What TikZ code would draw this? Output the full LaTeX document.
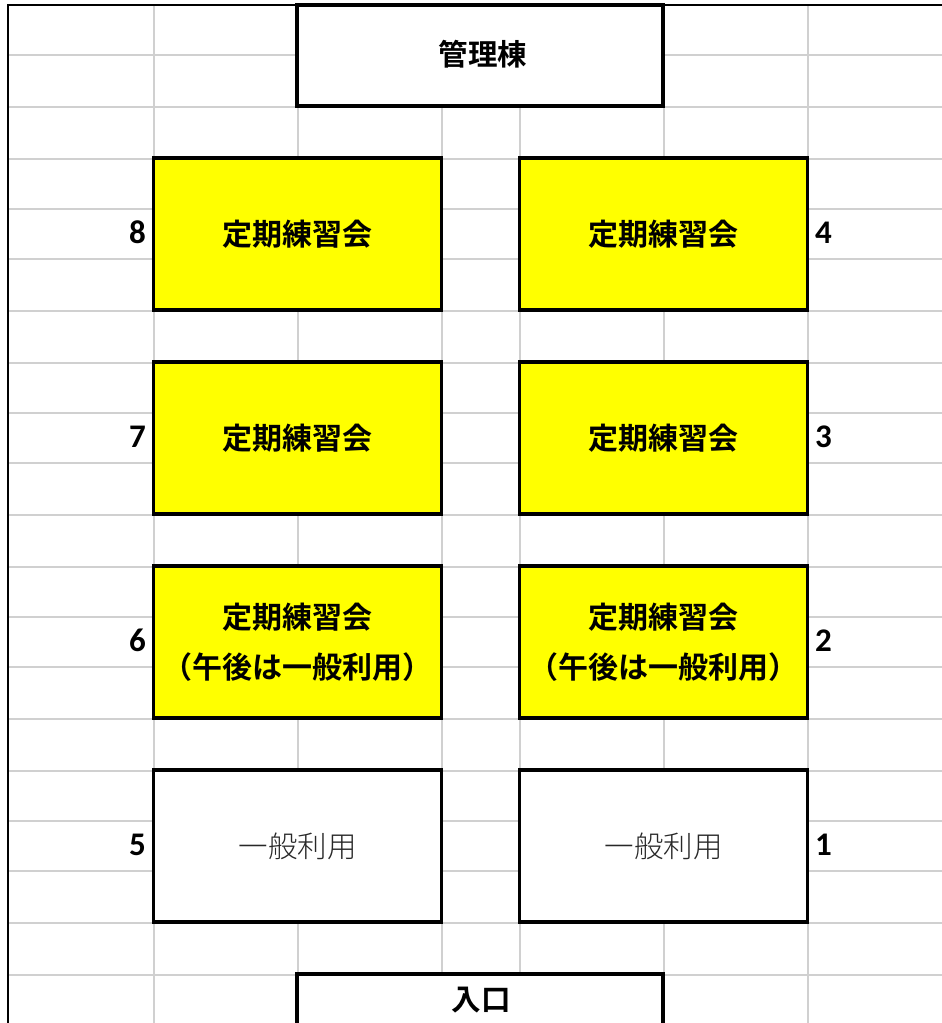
\documentclass[tikz,border=0pt]{standalone}
\usepackage{fontspec}
\setmainfont{Noto Sans CJK JP}[BoldFont={Noto Sans CJK JP Bold}]
\newfontfamily\numfont{Carlito}[BoldFont={Carlito Bold}]
\newfontfamily\lightfont{Noto Sans CJK JP Light}
\definecolor{gridgray}{RGB}{208,208,208}
\definecolor{cellyellow}{RGB}{255,255,0}
\tikzset{
  gridline/.style={draw=gridgray,line width=2.2pt},
  plot/.style={draw=black,line width=3.6pt,minimum width=288pt,minimum height=152pt,inner sep=0pt,align=center,font=\fontsize{30}{50}\selectfont\bfseries,outer sep=0pt},
  hall/.style={draw=black,line width=3.6pt,minimum width=366pt,inner sep=0pt,outer sep=0pt},
  halltext/.style={font=\fontsize{29.5}{30}\selectfont\bfseries,inner sep=0pt},
  plain/.style={plot,font=\fontsize{29.5}{30}\lightfont\color[RGB]{40,40,40}},
  busy/.style={plot,fill=cellyellow},
  numl/.style={font=\fontsize{33}{34}\numfont\bfseries,inner sep=0pt,text height=21pt,text depth=0pt},
}
\begin{document}
\begin{tikzpicture}[x=1pt,y=-1pt]
\useasboundingbox (0,0) rectangle (942,1023);
\fill[white] (0,0) rectangle (942,1023);
\foreach \y in {55,107,159,209,259,311,363,413,463,515,567,617,667,719,771,821,871,923,975}
  \draw[gridline] (8,\y) -- (942,\y);
\foreach \x in {154,298,442,520,664,808}
  \draw[gridline] (\x,5) -- (\x,1023);
\draw[black,line width=2pt] (8,1023) -- (8,5) -- (942,5);
\node[hall,fill=white,minimum height=101pt] (office) at (480,55.5) {};
\node[halltext] (officelabel) at (483,54.5) {管理棟};
\node[busy] (p8) at (297.5,234) {定期練習会};
\node[busy] (p4) at (663.5,234) {定期練習会};
\node[busy] (p7) at (297.5,438) {定期練習会};
\node[busy] (p3) at (663.5,438) {定期練習会};
\node[busy] (p6) at (297.5,642) {定期練習会\\（午後は一般利用）};
\node[busy] (p2) at (663.5,642) {定期練習会\\（午後は一般利用）};
\node[plain,fill=white] (p5) at (297.5,846) {一般利用};
\node[plain,fill=white] (p1) at (663.5,846) {一般利用};
\begin{scope}
\clip (0,0) rectangle (942,1023);
\node[hall,fill=white,minimum height=80pt] (gate) at (480,1014) {};
\end{scope}
\node[halltext] (gatelabel) at (481,1000) {入口};
\node[numl,anchor=east] (n8) at (146,233) {8};
\node[numl,anchor=east] (n7) at (146,437) {7};
\node[numl,anchor=east] (n6) at (146,641) {6};
\node[numl,anchor=east] (n5) at (146,845) {5};
\node[numl,anchor=west] (n4) at (815,233) {4};
\node[numl,anchor=west] (n3) at (815,437) {3};
\node[numl,anchor=west] (n2) at (815,641) {2};
\node[numl,anchor=west] (n1) at (815,845) {1};
\end{tikzpicture}
\end{document}
